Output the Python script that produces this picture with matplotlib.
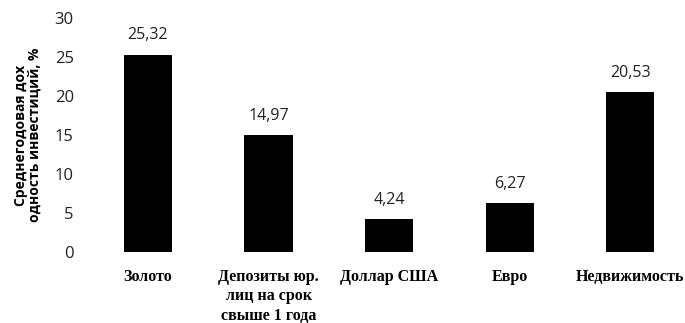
import matplotlib.pyplot as plt
import numpy as np

categories = ['Золото', 'Депозиты юр.\nлиц на срок\nсвыше 1 года', 'Доллар США', 'Евро', 'Недвижимость']
values = [25.32, 14.97, 4.24, 6.27, 20.53]
value_labels = ['25,32', '14,97', '4,24', '6,27', '20,53']
y_ticks = [0, 5, 10, 15, 20, 25, 30]

fig = plt.figure(figsize=(6.85, 3.23), dpi=100)
ax = fig.add_axes([0.128, 0.22, 0.88, 0.724])

x = np.arange(len(categories))
bars = ax.bar(x, values, width=0.4, color='black')

# value labels above bars
for xi, v, lab in zip(x, values, value_labels):
    ax.annotate(lab, (xi, v), xytext=(0, 8), textcoords='offset points',
                ha='center', va='bottom', fontsize=11.5, family='Open Sans', color='#222222')

ax.set_xlim(-0.5, 4.5)
ax.set_ylim(0, 30)
ax.set_yticks(y_ticks)
ax.set_yticklabels([str(t) for t in y_ticks], fontsize=12, family='Open Sans', color='#222222')
ax.set_xticks(x)
ax.set_xticklabels(categories, fontsize=11.5, family='Liberation Serif', fontweight='bold',
                   linespacing=1.3)
ax.tick_params(axis='both', length=0)
ax.tick_params(axis='x', pad=12)
ax.tick_params(axis='y', pad=10)

for s in ax.spines.values():
    s.set_visible(False)

ax.set_ylabel('Среднегодовая дох\nодность инвестиций, %', fontsize=10, fontweight='bold',
              family='Open Sans', linespacing=1.0)
ax.yaxis.set_label_coords(-0.076, 0.5)

fig.savefig('out.png', dpi=100)
